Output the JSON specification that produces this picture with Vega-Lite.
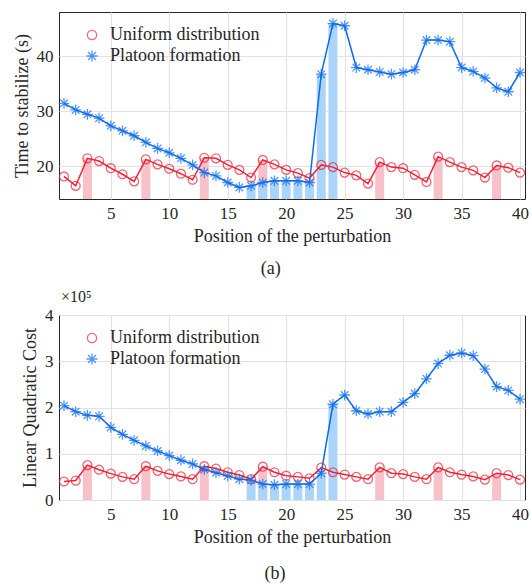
{
  "$schema": "https://vega.github.io/schema/vega-lite/v6.json",
  "padding": {"left": 12, "top": 11, "right": 0, "bottom": 2},
  "background": "white",
  "config": {
    "font": "Liberation Serif",
    "view": {"stroke": "#262626", "strokeWidth": 1},
    "axis": {
      "labelFont": "Liberation Serif", "titleFont": "Liberation Serif",
      "labelFontSize": 17, "titleFontSize": 18, "titleFontWeight": "normal",
      "labelColor": "#262626", "titleColor": "#262626",
      "gridColor": "#e1e1e1", "gridWidth": 1, "domain": false, "ticks": false,
      "labelPadding": 6, "titlePadding": 6
    },
    "legend": {
      "orient": "top-left", "offset": 14, "symbolOffset": 10,
      "labelFont": "Liberation Serif", "labelFontSize": 18, "labelColor": "#262626",
      "symbolStrokeWidth": 1.3, "rowPadding": 3, "labelOffset": 9, "symbolSize": 85
    },
    "title": {"font": "Liberation Serif", "fontSize": 18, "fontWeight": "normal", "color": "#262626"}
  },
  "datasets": {
    "a": [
      {"pos":1,"series":"Uniform distribution","value":18.1},{"pos":2,"series":"Uniform distribution","value":16.4},{"pos":3,"series":"Uniform distribution","value":21.4},{"pos":4,"series":"Uniform distribution","value":20.9},{"pos":5,"series":"Uniform distribution","value":19.6},{"pos":6,"series":"Uniform distribution","value":18.5},{"pos":7,"series":"Uniform distribution","value":17.2},{"pos":8,"series":"Uniform distribution","value":21.2},{"pos":9,"series":"Uniform distribution","value":20.3},{"pos":10,"series":"Uniform distribution","value":19.5},
      {"pos":11,"series":"Uniform distribution","value":18.6},{"pos":12,"series":"Uniform distribution","value":17.5},{"pos":13,"series":"Uniform distribution","value":21.5},{"pos":14,"series":"Uniform distribution","value":21.4},{"pos":15,"series":"Uniform distribution","value":20.2},{"pos":16,"series":"Uniform distribution","value":19.3},{"pos":17,"series":"Uniform distribution","value":17.9},{"pos":18,"series":"Uniform distribution","value":21.1},{"pos":19,"series":"Uniform distribution","value":20.3},{"pos":20,"series":"Uniform distribution","value":19.3},
      {"pos":21,"series":"Uniform distribution","value":18.7},{"pos":22,"series":"Uniform distribution","value":17.8},{"pos":23,"series":"Uniform distribution","value":20.2},{"pos":24,"series":"Uniform distribution","value":19.8},{"pos":25,"series":"Uniform distribution","value":18.8},{"pos":26,"series":"Uniform distribution","value":18.3},{"pos":27,"series":"Uniform distribution","value":16.8},{"pos":28,"series":"Uniform distribution","value":20.7},{"pos":29,"series":"Uniform distribution","value":19.8},{"pos":30,"series":"Uniform distribution","value":19.6},
      {"pos":31,"series":"Uniform distribution","value":18.4},{"pos":32,"series":"Uniform distribution","value":17.1},{"pos":33,"series":"Uniform distribution","value":21.7},{"pos":34,"series":"Uniform distribution","value":20.7},{"pos":35,"series":"Uniform distribution","value":19.8},{"pos":36,"series":"Uniform distribution","value":19.2},{"pos":37,"series":"Uniform distribution","value":17.9},{"pos":38,"series":"Uniform distribution","value":20.1},{"pos":39,"series":"Uniform distribution","value":19.7},{"pos":40,"series":"Uniform distribution","value":18.8},
      {"pos":1,"series":"Platoon formation","value":31.4},{"pos":2,"series":"Platoon formation","value":30.2},{"pos":3,"series":"Platoon formation","value":29.4},{"pos":4,"series":"Platoon formation","value":28.7},{"pos":5,"series":"Platoon formation","value":27.3},{"pos":6,"series":"Platoon formation","value":26.4},{"pos":7,"series":"Platoon formation","value":25.5},{"pos":8,"series":"Platoon formation","value":24.3},{"pos":9,"series":"Platoon formation","value":23.2},{"pos":10,"series":"Platoon formation","value":22.4},
      {"pos":11,"series":"Platoon formation","value":21.4},{"pos":12,"series":"Platoon formation","value":20.2},{"pos":13,"series":"Platoon formation","value":18.8},{"pos":14,"series":"Platoon formation","value":18.2},{"pos":15,"series":"Platoon formation","value":17.0},{"pos":16,"series":"Platoon formation","value":16.1},{"pos":17,"series":"Platoon formation","value":16.4},{"pos":18,"series":"Platoon formation","value":17.0},{"pos":19,"series":"Platoon formation","value":17.3},{"pos":20,"series":"Platoon formation","value":17.3},
      {"pos":21,"series":"Platoon formation","value":17.3},{"pos":22,"series":"Platoon formation","value":17.0},{"pos":23,"series":"Platoon formation","value":36.7},{"pos":24,"series":"Platoon formation","value":45.9},{"pos":25,"series":"Platoon formation","value":45.5},{"pos":26,"series":"Platoon formation","value":37.9},{"pos":27,"series":"Platoon formation","value":37.5},{"pos":28,"series":"Platoon formation","value":37.1},{"pos":29,"series":"Platoon formation","value":36.7},{"pos":30,"series":"Platoon formation","value":37.0},
      {"pos":31,"series":"Platoon formation","value":37.5},{"pos":32,"series":"Platoon formation","value":42.9},{"pos":33,"series":"Platoon formation","value":42.9},{"pos":34,"series":"Platoon formation","value":42.6},{"pos":35,"series":"Platoon formation","value":37.9},{"pos":36,"series":"Platoon formation","value":37.2},{"pos":37,"series":"Platoon formation","value":36.0},{"pos":38,"series":"Platoon formation","value":34.2},{"pos":39,"series":"Platoon formation","value":33.5},{"pos":40,"series":"Platoon formation","value":37.0}
    ],
    "b": [
      {"pos":1,"series":"Uniform distribution","value":40000},{"pos":2,"series":"Uniform distribution","value":42000},{"pos":3,"series":"Uniform distribution","value":75500},{"pos":4,"series":"Uniform distribution","value":65500},{"pos":5,"series":"Uniform distribution","value":57000},{"pos":6,"series":"Uniform distribution","value":50000},{"pos":7,"series":"Uniform distribution","value":45000},{"pos":8,"series":"Uniform distribution","value":73000},{"pos":9,"series":"Uniform distribution","value":63000},{"pos":10,"series":"Uniform distribution","value":56000},
      {"pos":11,"series":"Uniform distribution","value":51000},{"pos":12,"series":"Uniform distribution","value":45000},{"pos":13,"series":"Uniform distribution","value":73000},{"pos":14,"series":"Uniform distribution","value":68000},{"pos":15,"series":"Uniform distribution","value":60000},{"pos":16,"series":"Uniform distribution","value":54000},{"pos":17,"series":"Uniform distribution","value":45000},{"pos":18,"series":"Uniform distribution","value":72000},{"pos":19,"series":"Uniform distribution","value":60000},{"pos":20,"series":"Uniform distribution","value":52500},
      {"pos":21,"series":"Uniform distribution","value":50000},{"pos":22,"series":"Uniform distribution","value":47000},{"pos":23,"series":"Uniform distribution","value":70000},{"pos":24,"series":"Uniform distribution","value":60000},{"pos":25,"series":"Uniform distribution","value":55000},{"pos":26,"series":"Uniform distribution","value":50000},{"pos":27,"series":"Uniform distribution","value":45000},{"pos":28,"series":"Uniform distribution","value":70500},{"pos":29,"series":"Uniform distribution","value":58000},{"pos":30,"series":"Uniform distribution","value":56000},
      {"pos":31,"series":"Uniform distribution","value":50000},{"pos":32,"series":"Uniform distribution","value":45000},{"pos":33,"series":"Uniform distribution","value":70500},{"pos":34,"series":"Uniform distribution","value":60000},{"pos":35,"series":"Uniform distribution","value":55000},{"pos":36,"series":"Uniform distribution","value":51000},{"pos":37,"series":"Uniform distribution","value":44000},{"pos":38,"series":"Uniform distribution","value":58000},{"pos":39,"series":"Uniform distribution","value":54000},{"pos":40,"series":"Uniform distribution","value":44000},
      {"pos":1,"series":"Platoon formation","value":204000},{"pos":2,"series":"Platoon formation","value":191000},{"pos":3,"series":"Platoon formation","value":183000},{"pos":4,"series":"Platoon formation","value":181000},{"pos":5,"series":"Platoon formation","value":157000},{"pos":6,"series":"Platoon formation","value":142000},{"pos":7,"series":"Platoon formation","value":129000},{"pos":8,"series":"Platoon formation","value":117000},{"pos":9,"series":"Platoon formation","value":106000},{"pos":10,"series":"Platoon formation","value":96000},
      {"pos":11,"series":"Platoon formation","value":86000},{"pos":12,"series":"Platoon formation","value":78000},{"pos":13,"series":"Platoon formation","value":66000},{"pos":14,"series":"Platoon formation","value":59000},{"pos":15,"series":"Platoon formation","value":52000},{"pos":16,"series":"Platoon formation","value":45000},{"pos":17,"series":"Platoon formation","value":43000},{"pos":18,"series":"Platoon formation","value":34500},{"pos":19,"series":"Platoon formation","value":33000},{"pos":20,"series":"Platoon formation","value":34500},
      {"pos":21,"series":"Platoon formation","value":34500},{"pos":22,"series":"Platoon formation","value":34500},{"pos":23,"series":"Platoon formation","value":58000},{"pos":24,"series":"Platoon formation","value":207000},{"pos":25,"series":"Platoon formation","value":227000},{"pos":26,"series":"Platoon formation","value":193000},{"pos":27,"series":"Platoon formation","value":186000},{"pos":28,"series":"Platoon formation","value":191000},{"pos":29,"series":"Platoon formation","value":191000},{"pos":30,"series":"Platoon formation","value":211000},
      {"pos":31,"series":"Platoon formation","value":230000},{"pos":32,"series":"Platoon formation","value":262000},{"pos":33,"series":"Platoon formation","value":295000},{"pos":34,"series":"Platoon formation","value":313000},{"pos":35,"series":"Platoon formation","value":318000},{"pos":36,"series":"Platoon formation","value":312000},{"pos":37,"series":"Platoon formation","value":283000},{"pos":38,"series":"Platoon formation","value":245000},{"pos":39,"series":"Platoon formation","value":237000},{"pos":40,"series":"Platoon formation","value":218000}
    ]
  },
  "columns": 1,
  "spacing": 10,
  "concat": [
    {
      "title": {"text": "(a)", "orient": "bottom", "anchor": "middle", "offset": 14},
      "vconcat": [
        {
          "width": 466, "height": 187,
          "data": {"name": "a"},
          "encoding": {
            "x": {"field": "pos", "type": "quantitative", "scale": {"domain": [1, 40], "nice": false}, "axis": {"values": [5,10,15,20,25,30,35,40], "title": "Position of the perturbation", "grid": true}},
            "y": {"field": "value", "type": "quantitative", "scale": {"domain": [14, 48], "nice": false, "zero": false}, "axis": {"values": [20,30,40], "title": "Time to stabilize (s)", "titlePadding": 5, "grid": true}}
          },
          "layer": [
            {"transform": [{"filter": "datum.series == 'Uniform distribution' && indexof([3,8,13,18,28,33,38], datum.pos) >= 0"}],
             "mark": {"type": "bar", "size": 9, "color": "#f8c1c9", "clip": true}},
            {"transform": [{"filter": "datum.series == 'Platoon formation' && datum.pos >= 17 && datum.pos <= 24"}],
             "mark": {"type": "bar", "size": 9, "color": "#abd4fa", "clip": true}},
            {"transform": [{"filter": "datum.series == 'Uniform distribution'"}],
             "mark": {"type": "line", "strokeWidth": 1.5, "color": "#ee2236"}},
            {"transform": [{"filter": "datum.series == 'Platoon formation'"}],
             "mark": {"type": "line", "strokeWidth": 1.5, "color": "#0b6cf0"}},
            {"mark": {"type": "point", "filled": false, "strokeWidth": 1.3, "size": 80},
             "encoding": {
               "color": {"field": "series", "type": "nominal", "scale": {"domain": ["Uniform distribution", "Platoon formation"], "range": ["#ee2236", "#0b6cf0"]}, "title": null},
               "shape": {"field": "series", "type": "nominal", "scale": {"domain": ["Uniform distribution", "Platoon formation"], "range": ["circle", "M0,-1.2L0,1.2M-1.2,0L1.2,0M-0.85,-0.85L0.85,0.85M-0.85,0.85L0.85,-0.85"]}, "title": null}
             }}
          ]
        }
      ]
    },
    {
      "title": {"text": "(b)", "orient": "bottom", "anchor": "middle", "offset": 18},
      "vconcat": [
        {
          "width": 466, "height": 185,
          "title": {"text": "×10⁵", "anchor": "start", "frame": "group", "orient": "top", "offset": 1, "fontSize": 16, "dx": 2},
          "data": {"name": "b"},
          "encoding": {
            "x": {"field": "pos", "type": "quantitative", "scale": {"domain": [1, 40], "nice": false}, "axis": {"values": [5,10,15,20,25,30,35,40], "title": "Position of the perturbation", "grid": true}},
            "y": {"field": "value", "type": "quantitative", "scale": {"domain": [0, 400000], "nice": false}, "axis": {"values": [0,100000,200000,300000,400000], "labelExpr": "format(datum.value/100000, 'd')", "title": "Linear Quadratic Cost", "titlePadding": 5, "grid": true}}
          },
          "layer": [
            {"transform": [{"filter": "datum.series == 'Uniform distribution' && indexof([3,8,13,18,28,33,38], datum.pos) >= 0"}],
             "mark": {"type": "bar", "size": 9, "color": "#f8c1c9", "clip": true}},
            {"transform": [{"filter": "datum.series == 'Platoon formation' && datum.pos >= 17 && datum.pos <= 24"}],
             "mark": {"type": "bar", "size": 9, "color": "#abd4fa", "clip": true}},
            {"transform": [{"filter": "datum.series == 'Uniform distribution'"}],
             "mark": {"type": "line", "strokeWidth": 1.5, "color": "#ee2236"}},
            {"transform": [{"filter": "datum.series == 'Platoon formation'"}],
             "mark": {"type": "line", "strokeWidth": 1.5, "color": "#0b6cf0"}},
            {"mark": {"type": "point", "filled": false, "strokeWidth": 1.3, "size": 80},
             "encoding": {
               "color": {"field": "series", "type": "nominal", "scale": {"domain": ["Uniform distribution", "Platoon formation"], "range": ["#ee2236", "#0b6cf0"]}, "title": null},
               "shape": {"field": "series", "type": "nominal", "scale": {"domain": ["Uniform distribution", "Platoon formation"], "range": ["circle", "M0,-1.2L0,1.2M-1.2,0L1.2,0M-0.85,-0.85L0.85,0.85M-0.85,0.85L0.85,-0.85"]}, "title": null}
             }}
          ]
        }
      ]
    }
  ],
  "resolve": {"scale": {"color": "independent", "shape": "independent"}}
}
